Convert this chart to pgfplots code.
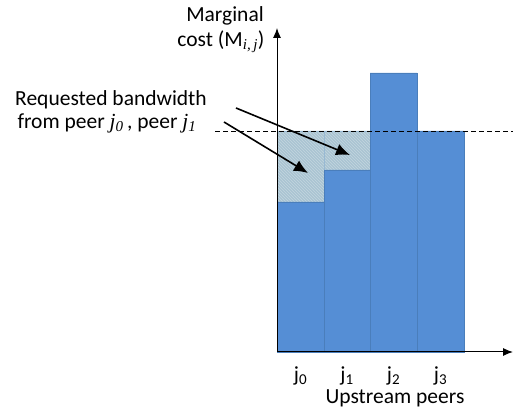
\documentclass[border=0pt]{standalone}
\usepackage{pgfplots}
\pgfplotsset{compat=1.18}
\usepackage{fontspec}
\setmainfont{Carlito}
\newfontfamily\tnr{Liberation Serif}
\usetikzlibrary{arrows.meta,patterns}
\definecolor{barblue}{HTML}{558ED5}
\definecolor{edgeblue}{HTML}{4A7EBB}
\definecolor{hatchfill}{HTML}{A9C4D2}
\begin{document}
\begin{tikzpicture}
\begin{axis}[
  scale only axis, width=515pt, height=414pt,
  xmin=-277, xmax=238, ymin=-62, ymax=352,
  hide axis, clip=false,
  font=\fontsize{21.5}{25}\selectfont,
]
% requested (hatched) region
\addplot[ybar interval, fill=hatchfill, draw=hatchfill!80!barblue,
  postaction={pattern=north west lines, pattern color=white!30!hatchfill}]
  coordinates {(0,221) (47,221) (93,221)};
% marginal cost bars
\addplot[ybar interval, fill=barblue, draw=edgeblue, line width=0.6pt]
  coordinates {(0,150) (47,182) (93,279) (140,221) (187,221)};
% dashed level
\addplot[black, line width=0.9pt, dash pattern=on 5pt off 3pt]
  coordinates {(-62,221) (236,221)};
% axes
\draw[line width=1pt, -{Latex[length=10pt,width=8pt]}] (axis cs:0,0) -- (axis cs:0,324);
\draw[line width=1pt, -{Latex[length=10pt,width=8pt]}] (axis cs:0,0) -- (axis cs:236,0);
% annotation arrows
\draw[line width=1.6pt, -{Latex[length=14pt,width=12pt]}] (axis cs:-41,244) -- (axis cs:73,197);
\draw[line width=1.6pt, -{Latex[length=14pt,width=12pt]}] (axis cs:-53,230) -- (axis cs:31,179);
% texts
\node[anchor=center] at (axis cs:-52,336) {Marginal};
\node[anchor=center] at (axis cs:-56,310) {cost (M\textsubscript{\tnr\itshape i,\,j})};
\node[anchor=center] at (axis cs:-166,252) {Requested bandwidth};
\node[anchor=center] at (axis cs:-170,229) {from peer {\tnr\itshape j\textsubscript{0}}\,, peer {\tnr\itshape j\textsubscript{1}}};
\node[anchor=center] at (axis cs:23.5,-24) {j\textsubscript{0}};
\node[anchor=center] at (axis cs:70,-24) {j\textsubscript{1}};
\node[anchor=center] at (axis cs:116.5,-24) {j\textsubscript{2}};
\node[anchor=center] at (axis cs:163.5,-24) {j\textsubscript{3}};
\node[anchor=center] at (axis cs:118,-46) {Upstream peers};
\end{axis}
\pgfresetboundingbox
\useasboundingbox (current axis.south west) rectangle (current axis.north east);
\end{tikzpicture}
\end{document}
